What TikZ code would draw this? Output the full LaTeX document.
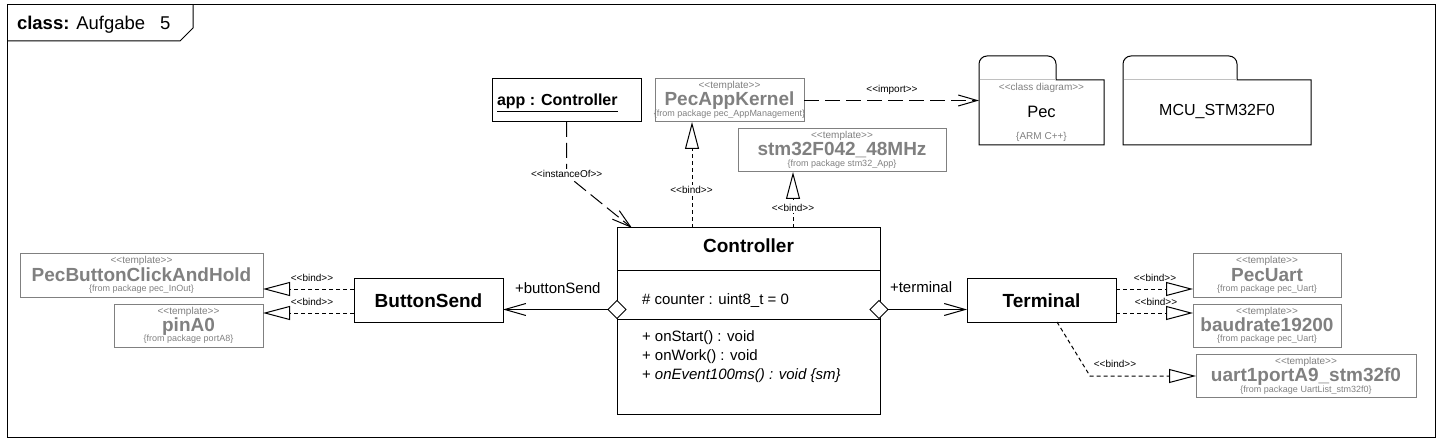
\documentclass[tikz,border=0pt]{standalone}
\usepackage{fontspec}
\setmainfont{Liberation Sans}
\usetikzlibrary{arrows.meta,shapes.geometric}
\definecolor{tgray}{RGB}{128,128,128}
\definecolor{lgray}{RGB}{192,192,192}
\newcommand\fs[1]{\fontsize{#1}{#1}\selectfont}
\newcommand\st[1]{<{}<#1>{}>}
\tikzset{
  every node/.style={inner sep=0pt, outer sep=0pt},
  cls/.style={draw, line width=1pt, minimum height=43pt, font=\fs{19}\bfseries},
  tbox/.style={draw=tgray, line width=1pt, minimum height=43pt},
  tster/.style={text=tgray, font=\fs{10}},
  tname/.style={text=tgray, font=\fs{19}\bfseries},
  tfrom/.style={text=tgray, font=\fs{9}},
  lbl/.style={font=\fs{10}},
  wlbl/.style={font=\fs{10}, fill=white, inner sep=1pt},
  ltxt/.style={font=\fs{15}, anchor=base west},
  pkgline/.style={line width=1pt},
  bind/.style={line width=1pt, dash pattern=on 4pt off 3pt, -{Triangle[open,length=27pt,width=14pt]}},
  dep/.style={line width=1pt, dash pattern=on 15pt off 6pt, -{Straight Barb[length=19pt,width=11pt]}},
  assoc/.style={line width=1pt, -{Straight Barb[length=21pt,width=12pt]}},
  agg/.style={diamond, draw, fill=white, line width=1pt, minimum width=18pt, minimum height=18pt},
}
\newcommand\tpl[5]{%
  \node[tbox, minimum width=#3] (#1) at (#2) {};
  \node[tster, anchor=base] (#1-s) at ([yshift=-10pt]#1.north) {\st{template}};
  \node[tname, anchor=base] (#1-n) at ([yshift=-27pt]#1.north) {#4};
  \node[tfrom, anchor=base] (#1-f) at ([yshift=-37.5pt]#1.north) {\{from package #5\}};
}
\begin{document}
\begin{tikzpicture}[x=1pt,y=-1pt]
\useasboundingbox (0,0) rectangle (1445,446);
% frame
\draw[line width=1pt] (7,5) rectangle (1435,437);
\draw[line width=1pt] (7,41) -- (180,41) -- (193,28) -- (193,5);
\node[font=\fs{18.5}, anchor=base west] (title) at (17,30) {\textbf{class:} Aufgabe};
\node[font=\fs{18.5}, anchor=base west] (titlenr) at (160,30) {5};

% instance
\node[draw, line width=1pt, minimum width=149pt, minimum height=43pt] (app) at (566.5,100.5) {};
\node[font=\fs{16}\bfseries, anchor=base west] (app-t) at (497,106) {\underline{app : Controller}};

% templates top
\tpl{pak}{729.5,100.5}{149pt}{PecAppKernel}{pec\_AppManagement}
\tpl{stm}{842,150.5}{208pt}{stm32F042\_48MHz}{stm32\_App}

% packages
\node[minimum width=125pt, minimum height=65pt] (pec) at (1041.5,112.5) {};
\draw[pkgline] (pec.south west) -- ([yshift=16pt]pec.north west)
  arc[start angle=180, end angle=90, radius=8pt] -- ++(61pt,0)
  arc[start angle=90, end angle=0, radius=8pt] -- ([xshift=77pt]pec.north west)
  -- (pec.north east) -- (pec.south east) -- cycle;
\draw[lgray, line width=1pt] ([xshift=0.5pt]pec.north west) -- ([xshift=76.5pt]pec.north west);
\node[tster] (pec-s) at (1041.5,88) {\st{class diagram}};
\node[font=\fs{16.5}] (pec-n) at (1041.5,112) {Pec};
\node[tster] (pec-f) at (1041.5,137) {\{ARM C++\}};

\node[minimum width=188pt, minimum height=65pt] (mcu) at (1217,112.5) {};
\draw[pkgline] (mcu.south west) -- ([yshift=16pt]mcu.north west)
  arc[start angle=180, end angle=90, radius=8pt] -- ++(98pt,0)
  arc[start angle=90, end angle=0, radius=8pt] -- ([xshift=114pt]mcu.north west)
  -- (mcu.north east) -- (mcu.south east) -- cycle;
\draw[lgray, line width=1pt] ([xshift=0.5pt]mcu.north west) -- ([xshift=113.5pt]mcu.north west);
\node[font=\fs{16}] (mcu-n) at (1217,112) {MCU\_STM32F0};

% Controller class
\node[draw, line width=1pt, minimum width=263pt, minimum height=186pt] (ctrl) at (748.5,321) {};
\draw[line width=1pt] ([yshift=-43pt]ctrl.north west) -- ([yshift=-43pt]ctrl.north east);
\draw[line width=1pt] ([yshift=-91pt]ctrl.north west) -- ([yshift=-91pt]ctrl.north east);
\node[font=\fs{19}\bfseries, anchor=base] (ctrl-n) at (748.5,253) {Controller};
\node[ltxt] (ctrl-a) at (642,304) {\# counter : uint8\_t = 0};
\node[ltxt] (ctrl-m1) at (642,341) {+ onStart() : void};
\node[ltxt] (ctrl-m2) at (642,360) {+ onWork() : void};
\node[ltxt] (ctrl-m3) at (642,379) {+ \textit{onEvent100ms() : void \{sm\}}};

% classes
\node[cls, minimum width=149pt] (bs) at (428.5,300.5) {ButtonSend};
\node[cls, minimum width=149pt] (ter) at (1041.5,300.5) {Terminal};

% templates left/right
\tpl{pbc}{141.5,275.5}{243pt}{PecButtonClickAndHold}{pec\_InOut}
\tpl{pin}{188.5,325.5}{149pt}{pinA0}{portA8}
\tpl{puart}{1267,275.5}{148pt}{PecUart}{pec\_Uart}
\tpl{baud}{1267,325.5}{148pt}{baudrate19200}{pec\_Uart}
\tpl{uart}{1306,376}{220pt}{uart1portA9\_stm32f0}{UartList\_stm32f0}

% associations
\node[agg] (dl) at (617,309.5) {};
\node[agg] (dr) at (879,309.5) {};
\draw[assoc] (dl.west) -- (dl.west -| bs.east);
\draw[assoc] (dr.east) -- (dr.east -| ter.west);
\node[ltxt] (l-bs) at (515,294) {+buttonSend};
\node[ltxt] (l-ter) at (890,293) {+terminal};

% import
\draw[dep] (pak.east) -- (pak.east -| pec.west);
\node[lbl] (l-imp) at (892,90) {\st{import}};

% instanceOf
\coordinate (iob) at (566.5,175);
\draw[dep] (app.south) -- (iob) -- ([xshift=15pt]ctrl.north west);
\node[wlbl] (l-io) at (566.7,173.5) {\st{instanceOf}};

% top binds
\coordinate (pk) at ([xshift=-37.5pt]pak.south);
\draw[bind] (pk |- ctrl.north) -- (pk);
\node[wlbl] (l-b1) at (691.5,190) {\st{bind}};
\coordinate (sk) at ([xshift=-49pt]stm.south);
\draw[bind] (sk |- ctrl.north) -- (sk);
\node[wlbl] (l-b2) at (793,208) {\st{bind}};

% left binds
\coordinate (bsa) at ([yshift=11.5pt]bs.west);
\coordinate (bsb) at ([yshift=-12.5pt]bs.west);
\draw[bind] (bsa) -- (bsa -| pbc.east);
\draw[bind] (bsb) -- (bsb -| pin.east);
\node[lbl] (l-b3) at (312,278) {\st{bind}};
\node[lbl] (l-b4) at (312,302) {\st{bind}};

% right binds
\coordinate (tea) at ([yshift=11.5pt]ter.east);
\coordinate (teb) at ([yshift=-12.5pt]ter.east);
\draw[bind] (tea) -- (tea -| puart.west);
\draw[bind] (teb) -- (teb -| baud.west);
\coordinate (tec) at ([xshift=15.5pt]ter.south);
\coordinate (tbend) at ([xshift=-106pt]uart.west);
\draw[bind] (tec) -- (tbend) -- (uart.west);
\node[lbl] (l-b5) at (1155,278) {\st{bind}};
\node[lbl] (l-b6) at (1156,302) {\st{bind}};
\node[lbl] (l-b7) at (1115,363.5) {\st{bind}};
\end{tikzpicture}
\end{document}
